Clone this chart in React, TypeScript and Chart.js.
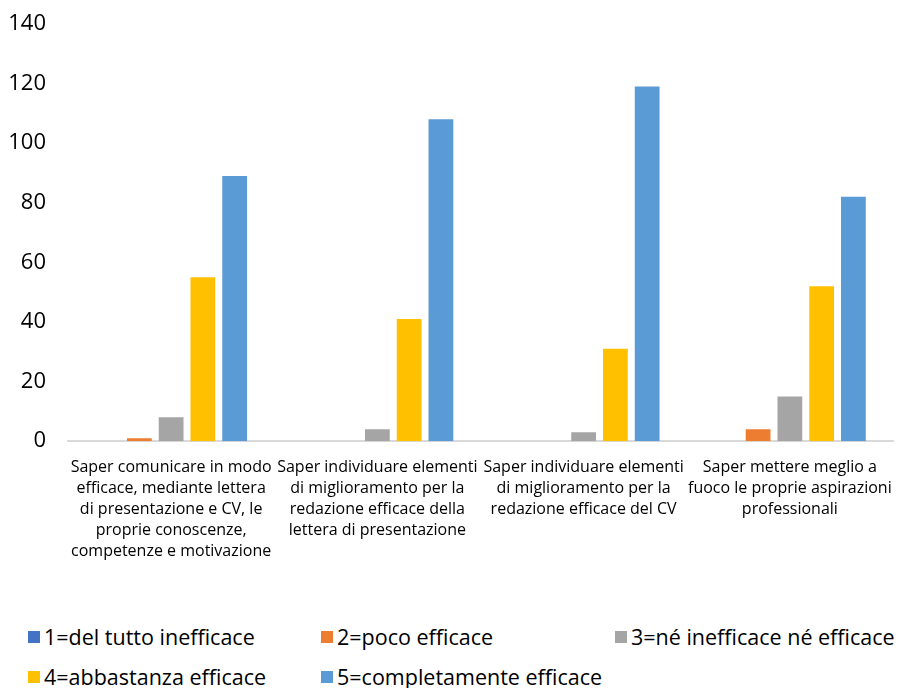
import React, { useEffect, useRef } from "react";
import { Chart, registerables } from "chart.js";

Chart.register(...registerables);

const categories: string[][] = [
  ["Saper comunicare in modo", "efficace, mediante lettera", "di presentazione e CV, le", "proprie conoscenze,", "competenze e motivazione"],
  ["Saper individuare elementi", "di miglioramento per la", "redazione efficace della", "lettera di presentazione"],
  ["Saper individuare elementi", "di miglioramento per la", "redazione efficace del CV"],
  ["Saper mettere meglio a", "fuoco le proprie aspirazioni", "professionali"],
];

const seriesNames = [
  "1=del tutto inefficace",
  "2=poco efficace",
  "3=né inefficace né efficace",
  "4=abbastanza efficace",
  "5=completamente efficace",
];
const seriesColors = ["#4472C4", "#ED7D31", "#A5A5A5", "#FFC000", "#5B9BD5"];

const s1 = [0, 0, 0, 0];
const s2 = [1, 0, 0, 4];
const s3 = [8, 4, 3, 15];
const s4 = [55, 41, 31, 52];
const s5 = [89, 108, 119, 82];
const seriesValues = [s1, s2, s3, s4, s5];

const yTicks = [0, 20, 40, 60, 80, 100, 120, 140];

const FONT = "'Open Sans', Lato, sans-serif";

export default function App() {
  const ref = useRef<HTMLCanvasElement | null>(null);

  useEffect(() => {
    document.body.style.margin = "0";
    const ctx = ref.current!;
    const chart = new Chart(ctx, {
      type: "bar",
      data: {
        labels: categories,
        datasets: seriesNames.map((n, i) => ({
          label: n,
          data: seriesValues[i],
          backgroundColor: seriesColors[i],
          categoryPercentage: 0.77,
          barPercentage: 0.78,
        })),
      },
      options: {
        animation: false,
        responsive: false,
        maintainAspectRatio: false,
        layout: { padding: { left: 10, right: 6, top: 24, bottom: 0 } },
        plugins: { legend: { display: false }, tooltip: { enabled: false } },
        scales: {
          x: {
            afterFit: (s: any) => {
              s.paddingLeft = 0;
              s.paddingRight = 0;
            },
            grid: { display: false, drawTicks: false },
            border: { display: true, color: "#d9d9d9", width: 2 },
            ticks: {
              color: "#000",
              font: { family: FONT, size: 16, lineHeight: 1.31 },
              maxRotation: 0,
              minRotation: 0,
              autoSkip: false,
              padding: 16,
            },
          },
          y: {
            min: 0,
            max: 140,
            afterFit: (s: any) => {
              s.paddingTop = 0;
              s.paddingBottom = 0;
              s.width = 58;
            },
            afterBuildTicks: (axis: any) => {
              axis.ticks = yTicks.map((v) => ({ value: v }));
            },
            grid: { display: false, drawTicks: false },
            border: { display: false },
            ticks: {
              color: "#000",
              font: { family: FONT, size: 22 },
              padding: 22,
            },
          },
        },
      },
    });
    return () => chart.destroy();
  }, []);

  const legendItem = (i: number) => (
    <div key={i} style={{ display: "flex", alignItems: "center", whiteSpace: "nowrap" }}>
      <span style={{ width: 12, height: 12, background: seriesColors[i], display: "inline-block", marginRight: 4 }} />
      <span>{seriesNames[i]}</span>
    </div>
  );

  return (
    <div style={{ position: "relative", width: 899, height: 688, background: "#fff", fontFamily: FONT }}>
      <canvas ref={ref} width={899} height={578} style={{ position: "absolute", left: 0, top: 0 }} />
      <div style={{ position: "absolute", left: 28, top: 624, fontSize: 21.5, color: "#000", display: "grid", gridTemplateColumns: "293px 294px 290px", rowGap: 14, lineHeight: "26px" }}>
        {[0, 1, 2, 3, 4].map((i) => legendItem(i))}
      </div>
    </div>
  );
}
